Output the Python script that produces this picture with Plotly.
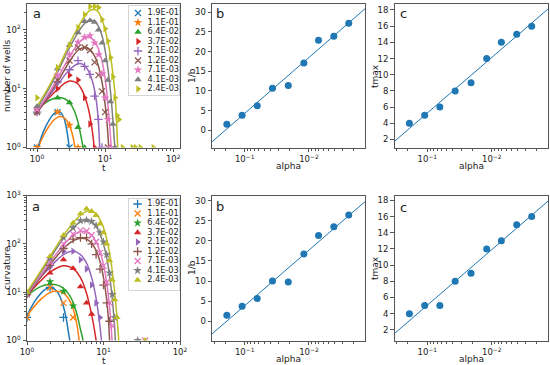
import numpy as np
import plotly.graph_objects as go

# ---------------- data ----------------
labels = ["1.9E-01", "1.1E-01", "6.4E-02", "3.7E-02", "2.1E-02",
          "1.2E-02", "7.1E-03", "4.1E-03", "2.4E-03"]
alpha = [1.9e-01, 1.1e-01, 6.4e-02, 3.7e-02, 2.1e-02, 1.2e-02, 7.1e-03, 4.1e-03, 2.4e-03]
colors = ["#1f77b4", "#ff7f0e", "#2ca02c", "#d62728", "#9467bd",
          "#8c564b", "#e377c2", "#7f7f7f", "#bcbd22"]
symbols_top = ["x-thin", "star", "triangle-up", "triangle-right", "cross-thin",
               "x-thin", "star", "triangle-up", "triangle-right"]
symbols_bot = ["cross-thin", "x-thin", "star", "triangle-up", "triangle-right",
               "cross-thin", "x-thin", "star", "triangle-up"]

# number of wells: observed points
wells_t = [
    [1, 2, 3],
    [1, 2, 3, 4],
    [1, 2, 3, 4, 5],
    [1, 2, 3, 4, 5, 6, 7],
    [1, 2, 3, 4, 5, 6, 7, 8, 9],
    [1, 2, 3, 4, 5, 6, 7, 8, 9, 10, 11],
    [1, 2, 3, 4, 5, 6, 7, 8, 9, 10, 11, 12],
    [1, 2, 3, 4, 5, 6, 7, 8, 9, 10, 11, 12, 13, 14],
    [1, 2, 3, 4, 5, 6, 7, 8, 9, 10, 11, 12, 13, 14, 15, 16, 18, 25, 28, 33, 51],
]
wells_y = [
    [1, 4, 1],
    [1, 4, 2.4, 1],
    [4, 7, 5.8, 2.2, 1],
    [4, 10, 17, 14, 7, 2.5, 1],
    [4, 13, 21, 30, 24, 17.5, 7.5, 3, 1],
    [4, 14, 30, 50, 50, 45, 28, 17, 9, 4, 1],
    [4.5, 17, 38, 62, 75, 80, 60, 38, 18, 7, 3, 1],
    [5, 22, 55, 90, 140, 145, 135, 100, 60, 30, 14, 6, 2.5, 1],
    [7, 23, 55, 110, 180, 250, 250, 240, 150, 105, 65, 34, 16, 7, 3.5, 3, 1, 1, 1, 1, 1],
]
# number of wells: fitted curves
wells_fit_t = [
    [1, 1.25, 1.5, 1.75, 2, 2.25, 2.5, 2.75, 3.0, 3.1],
    [1, 1.25, 1.5, 1.75, 2, 2.25, 2.5, 2.75, 3, 3.25, 3.5, 3.7, 3.8],
    [1, 1.5, 2, 2.5, 3, 3.5, 4, 4.4, 4.7, 4.9],
    [1, 1.5, 2, 2.5, 3, 3.5, 4, 4.5, 5, 5.5, 6, 6.5, 6.9, 7.1],
    [1, 1.5, 2, 2.5, 3, 3.5, 4, 4.5, 5, 5.5, 6, 6.5, 7, 7.5, 8, 8.3, 8.5],
    [1, 1.5, 2, 3, 4, 5, 6, 7, 8, 9, 10, 10.8, 11.3, 11.6],
    [1, 1.5, 2, 3, 4, 5, 6, 7, 8, 9, 10, 11, 11.8, 12.3, 12.6],
    [1, 1.5, 2, 3, 4, 5, 6, 7, 8, 9, 10, 11, 12, 13, 13.6, 14.0, 14.3],
    [1, 1.5, 2, 3, 4, 5, 6, 7, 8, 9, 10, 11, 12, 13, 14, 14.8, 15.3, 15.6],
]
wells_fit_y = [
    [0.9, 1.9, 2.9, 3.7, 4.1, 3.9, 3.1, 1.9, 0.9, 0.5],
    [0.9, 1.6, 2.3, 2.9, 3.25, 3.35, 3.2, 2.85, 2.35, 1.8, 1.25, 0.8, 0.5],
    [4.5, 6.3, 7.1, 6.8, 5.8, 4.3, 2.7, 1.6, 1.05, 0.6],
    [4.0, 7.0, 9.7, 12.2, 13.5, 13.2, 12.0, 9.8, 7.5, 5.3, 3.4, 1.9, 1.0, 0.5],
    [4.0, 7.5, 11.5, 16.5, 21, 24.5, 26.5, 26.5, 24.5, 21.5, 17.5, 13.5, 9.5, 5.8, 2.6, 1.1, 0.5],
    [3.8, 8, 13, 29, 45, 50, 46, 36, 24, 13, 5.5, 2.2, 1.0, 0.5],
    [4.2, 8.5, 15, 35, 58, 73, 74, 64, 47, 30, 15, 5.5, 2.0, 1.0, 0.5],
    [4.6, 10, 19, 50, 90, 128, 146, 140, 115, 80, 45, 22, 9, 3, 1.4, 0.9, 0.4],
    [5, 11, 21, 58, 110, 170, 215, 222, 200, 150, 100, 62, 36, 18, 8, 2.5, 1.0, 0.5],
]

# curvature: observed points
curv_t = [
    [1, 2, 3],
    [1, 2, 3, 4],
    [1, 2, 3, 4],
    [1, 2, 3, 4, 5, 6, 7],
    [1, 2, 3, 4, 5, 6, 7, 8, 9],
    [1, 2, 3, 4, 5, 6, 7, 8, 9, 10, 11, 12],
    [1, 2, 3, 4, 5, 6, 7, 8, 9, 10, 11, 12, 13, 35],
    [1, 2, 3, 4, 5, 6, 7, 8, 9, 10, 11, 12, 13, 14, 28],
    [1, 2, 3, 4, 5, 6, 7, 8, 9, 10, 11, 12, 13, 14, 15, 35],
]
curv_y = [
    [3, 12.5, 3],
    [3, 12.5, 6, 3],
    [9, 16.5, 10.5, 5.2],
    [9, 25, 47, 31, 13, 6, 3.5],
    [9, 33, 70, 70, 47, 30, 14, 6, 3],
    [9, 36, 80, 125, 135, 135, 100, 60, 30, 14, 6, 2.5],
    [9, 42, 100, 160, 190, 185, 150, 110, 65, 35, 16, 6, 2, 1],
    [9.5, 50, 135, 215, 300, 310, 290, 240, 170, 110, 60, 25, 9, 3, 1],
    [10, 55, 150, 270, 420, 530, 470, 390, 260, 170, 100, 45, 18, 7, 3, 1],
]
# curvature: fitted curves
curv_fit_t = [
    [1, 1.25, 1.5, 1.75, 2, 2.25, 2.5, 2.75, 3, 3.25, 3.5, 3.65, 3.75],
    [1, 1.5, 2, 2.5, 3, 3.5, 4, 4.5, 4.8, 5.0],
    [1, 1.5, 2, 2.5, 3, 3.5, 4, 4.5, 5, 5.4, 5.6],
    [1, 1.5, 2, 2.5, 3, 3.5, 4, 5, 6, 7, 7.6, 8.0, 8.2],
    [1, 1.5, 2, 3, 4, 5, 6, 7, 8, 8.8, 9.4, 9.7],
    [1, 1.5, 2, 3, 4, 5, 6, 7, 8, 9, 10, 11, 11.6, 12.0, 12.3],
    [1, 1.5, 2, 3, 4, 5, 6, 7, 8, 9, 10, 11, 12, 12.7, 13.1],
    [1, 1.5, 2, 3, 4, 5, 6, 7, 8, 9, 10, 11, 12, 13, 13.8, 14.3, 14.6],
    [1, 1.5, 2, 3, 4, 5, 6, 7, 8, 9, 10, 11, 12, 13, 14, 15, 15.7, 16.1],
]
curv_fit_y = [
    [3.3, 6.3, 9.3, 11.6, 12.4, 11.8, 10.0, 7.6, 5.0, 2.9, 1.4, 0.9, 0.5],
    [3.3, 7.0, 9.8, 10.5, 9.5, 7.3, 4.6, 2.1, 1.0, 0.5],
    [8.5, 13, 14.5, 14, 12, 9.2, 6.2, 3.5, 1.7, 1.0, 0.5],
    [8.5, 17, 26, 32, 35, 34, 31, 20, 9.5, 3.4, 1.7, 1.0, 0.5],
    [8.5, 20, 33, 60, 70, 60, 40, 20, 7.5, 2.6, 1.0, 0.5],
    [8.5, 20, 37, 80, 115, 130, 125, 103, 73, 43, 20, 7, 2.8, 1.0, 0.5],
    [9, 22, 42, 95, 150, 178, 178, 150, 110, 70, 37, 16, 5, 1.6, 0.6],
    [9.5, 25, 50, 130, 215, 285, 305, 285, 230, 160, 98, 52, 22, 7.5, 2.5, 1.0, 0.5],
    [10, 27, 55, 150, 270, 390, 470, 480, 420, 320, 215, 125, 65, 28, 10, 3.0, 1.2, 0.5],
]

inv_b_wells = [1.5, 3.8, 6.2, 10.7, 11.4, 17.1, 22.9, 23.9, 27.2]
tmax_wells = [4, 5, 6, 8, 9, 12, 14, 15, 16]
inv_b_curv = [1.5, 3.75, 5.7, 10.0, 9.8, 16.75, 21.3, 23.5, 26.4]
tmax_curv = [4, 5, 5, 8, 9, 12, 13, 15, 16]
alpha_line_span = [0.5, 0.001]

# ---------------- figure ----------------
W, H = 550, 365
FONT = "DejaVu Sans"
AX = "#555555"


def fx(p):
    return p / W


def fy(p):
    return 1 - p / H


def log_minor(lo, hi):
    return [m * 10.0 ** e for e in range(lo, hi) for m in range(2, 10)]


fig = go.Figure()


def add_series(ts, ys, fts, fys, syms, xa, ya):
    for i in range(len(labels)):
        c = colors[i]
        fig.add_trace(go.Scatter(x=fts[i], y=fys[i], mode="lines",
                                 line=dict(color=c, width=1.5, shape="spline", smoothing=0.9),
                                 xaxis=xa, yaxis=ya, showlegend=False, hoverinfo="skip"))
    for i in range(len(labels)):
        c = colors[i]
        thin = syms[i].endswith("thin")
        fig.add_trace(go.Scatter(x=ts[i], y=ys[i], mode="markers",
                                 marker=dict(symbol=syms[i], size=6 if thin else 6.5, color=c,
                                             line=dict(color=c, width=1.3 if thin else 0)),
                                 xaxis=xa, yaxis=ya, showlegend=False, hoverinfo="skip"))


def add_fit(vals, xa, ya):
    la = np.log10(np.array(alpha))
    k, b0 = np.polyfit(la, np.array(vals), 1)
    xs = np.array(alpha_line_span)
    fig.add_trace(go.Scatter(x=xs, y=k * np.log10(xs) + b0, mode="lines",
                             line=dict(color="#1f77b4", width=1),
                             xaxis=xa, yaxis=ya, showlegend=False, hoverinfo="skip"))
    fig.add_trace(go.Scatter(x=alpha, y=vals, mode="markers",
                             marker=dict(color="#1f77b4", size=7),
                             xaxis=xa, yaxis=ya, showlegend=False, hoverinfo="skip"))


def add_legend(syms, xa, ya):
    for i in range(len(labels)):
        c = colors[i]
        thin = syms[i].endswith("thin")
        fig.add_trace(go.Scatter(x=[0.18], y=[i], mode="markers",
                                 marker=dict(symbol=syms[i], size=6 if thin else 6.5, color=c,
                                             line=dict(color=c, width=1.3 if thin else 0)),
                                 xaxis=xa, yaxis=ya, showlegend=False, hoverinfo="skip",
                                 cliponaxis=False))
    fig.add_trace(go.Scatter(x=[0.37] * len(labels), y=list(range(len(labels))), mode="text",
                             text=labels, textposition="middle right",
                             textfont=dict(family=FONT, size=8.2, color="#222"),
                             xaxis=xa, yaxis=ya, showlegend=False, hoverinfo="skip",
                             cliponaxis=False))


add_series(wells_t, wells_y, wells_fit_t, wells_fit_y, symbols_top, "x", "y")
add_fit(inv_b_wells, "x2", "y2")
add_fit(tmax_wells, "x3", "y3")
add_series(curv_t, curv_y, curv_fit_t, curv_fit_y, symbols_bot, "x4", "y4")
add_fit(inv_b_curv, "x5", "y5")
add_fit(tmax_curv, "x6", "y6")
add_legend(symbols_top, "x7", "y7")
add_legend(symbols_bot, "x8", "y8")

common = dict(showline=True, mirror=True, linecolor=AX, linewidth=1, ticks="outside",
              ticklen=3.5, tickwidth=1, tickcolor=AX, showgrid=False, zeroline=False,
              automargin=False, tickfont=dict(family=FONT, size=8.5, color="#222"))
minor_style = dict(ticks="outside", ticklen=2, tickwidth=0.8, tickcolor=AX, tickmode="array")

pow_t = dict(tickmode="array", tickvals=[1, 10, 100],
             ticktext=["10<sup>0</sup>", "10<sup>1</sup>", "10<sup>2</sup>"])
pow_y3 = dict(tickmode="array", tickvals=[1, 10, 100, 1000],
              ticktext=["10<sup>0</sup>", "10<sup>1</sup>", "10<sup>2</sup>", "10<sup>3</sup>"])
pow_a = dict(tickmode="array", tickvals=[0.1, 0.01],
             ticktext=["10<sup>\u22121</sup>", "10<sup>\u22122</sup>"])

top_y = [fy(147.5), fy(4)]
bot_y = [fy(340.5), fy(195.5)]
col_a = [fx(27), fx(180)]
col_b = [fx(212), fx(365)]
col_c = [fx(394.5), fx(548)]
alpha_range = [-0.49, -2.873]

layout_axes = dict(
    xaxis=dict(common, domain=col_a, type="log", range=[-0.147, 2.10], anchor="y", **pow_t,
               minor=dict(minor_style, tickvals=log_minor(-1, 2))),
    yaxis=dict(common, domain=top_y, type="log", range=[0, 2.44], anchor="x", **pow_y3,
               minor=dict(minor_style, tickvals=log_minor(0, 3))),
    xaxis2=dict(common, domain=col_b, type="log", range=alpha_range, anchor="y2", **pow_a,
                minor=dict(minor_style, tickvals=log_minor(-3, 0))),
    yaxis2=dict(common, domain=top_y, range=[-4.4, 32.1], anchor="x2", tickmode="array",
                tickvals=[0, 5, 10, 15, 20, 25, 30]),
    xaxis3=dict(common, domain=col_c, type="log", range=alpha_range, anchor="y3", **pow_a,
                minor=dict(minor_style, tickvals=log_minor(-3, 0))),
    yaxis3=dict(common, domain=top_y, range=[1.0, 18.74], anchor="x3", tickmode="array",
                tickvals=[2, 4, 6, 8, 10, 12, 14, 16, 18]),
    xaxis4=dict(common, domain=col_a, type="log", range=[0, 2], anchor="y4", **pow_t,
                minor=dict(minor_style, tickvals=log_minor(0, 2))),
    yaxis4=dict(common, domain=bot_y, type="log", range=[0, 3], anchor="x4", **pow_y3,
                minor=dict(minor_style, tickvals=log_minor(0, 3))),
    xaxis5=dict(common, domain=col_b, type="log", range=alpha_range, anchor="y5", **pow_a,
                minor=dict(minor_style, tickvals=log_minor(-3, 0))),
    yaxis5=dict(common, domain=bot_y, range=[-4.75, 31.25], anchor="x5", tickmode="array",
                tickvals=[0, 5, 10, 15, 20, 25, 30]),
    xaxis6=dict(common, domain=col_c, type="log", range=alpha_range, anchor="y6", **pow_a,
                minor=dict(minor_style, tickvals=log_minor(-3, 0))),
    yaxis6=dict(common, domain=bot_y, range=[0.68, 18.6], anchor="x6", tickmode="array",
                tickvals=[2, 4, 6, 8, 10, 12, 14, 16, 18]),
)

hidden = dict(showline=True, mirror=True, linecolor="#d4d4d4", linewidth=1, ticks="",
              showticklabels=False, showgrid=False, zeroline=False, fixedrange=True,
              automargin=False)
layout_axes["xaxis7"] = dict(hidden, domain=[fx(129), fx(179)], range=[0, 1], anchor="y7")
layout_axes["yaxis7"] = dict(hidden, domain=[fy(95), fy(6)], range=[8.63, -0.737], anchor="x7")
layout_axes["xaxis8"] = dict(hidden, domain=[fx(128.5), fx(179)], range=[0, 1], anchor="y8")
layout_axes["yaxis8"] = dict(hidden, domain=[fy(290), fy(199)], range=[9.05, -0.526], anchor="x8")

ann = []


def txt(s, x, y, size=9, angle=0):
    ann.append(dict(text=s, x=fx(x), y=fy(y), xref="paper", yref="paper", showarrow=False,
                    textangle=angle, xanchor="center", yanchor="middle",
                    font=dict(family=FONT, size=size, color="#222")))


# panel letters
for (s, x, y) in [("a", 37, 14), ("b", 220, 14), ("c", 403, 14),
                  ("a", 36, 206), ("b", 220, 206), ("c", 403, 207)]:
    txt(s, x, y, size=13)
# axis titles
txt("number of wells", 7, 76, angle=-90)
txt("t", 104, 168)
txt("1/b", 192, 76, angle=-90)
txt("alpha", 288.5, 165.5)
txt("tmax", 375, 76, angle=-90)
txt("alpha", 471, 165.5)
txt("curvature", 7, 268, angle=-90)
txt("t", 104, 360.5)
txt("1/b", 192, 268, angle=-90)
txt("alpha", 288.5, 359)
txt("tmax", 375, 268, angle=-90)
txt("alpha", 471, 359)

fig.update_layout(width=W, height=H, margin=dict(l=0, r=0, t=0, b=0, autoexpand=False),
                  paper_bgcolor="white", plot_bgcolor="white", showlegend=False,
                  font=dict(family=FONT, size=9, color="#222"),
                  annotations=ann, **layout_axes)

fig.write_html("out.html", config={"displayModeBar": False},
               post_script="document.body.style.margin='0';document.body.style.overflow='hidden';")
